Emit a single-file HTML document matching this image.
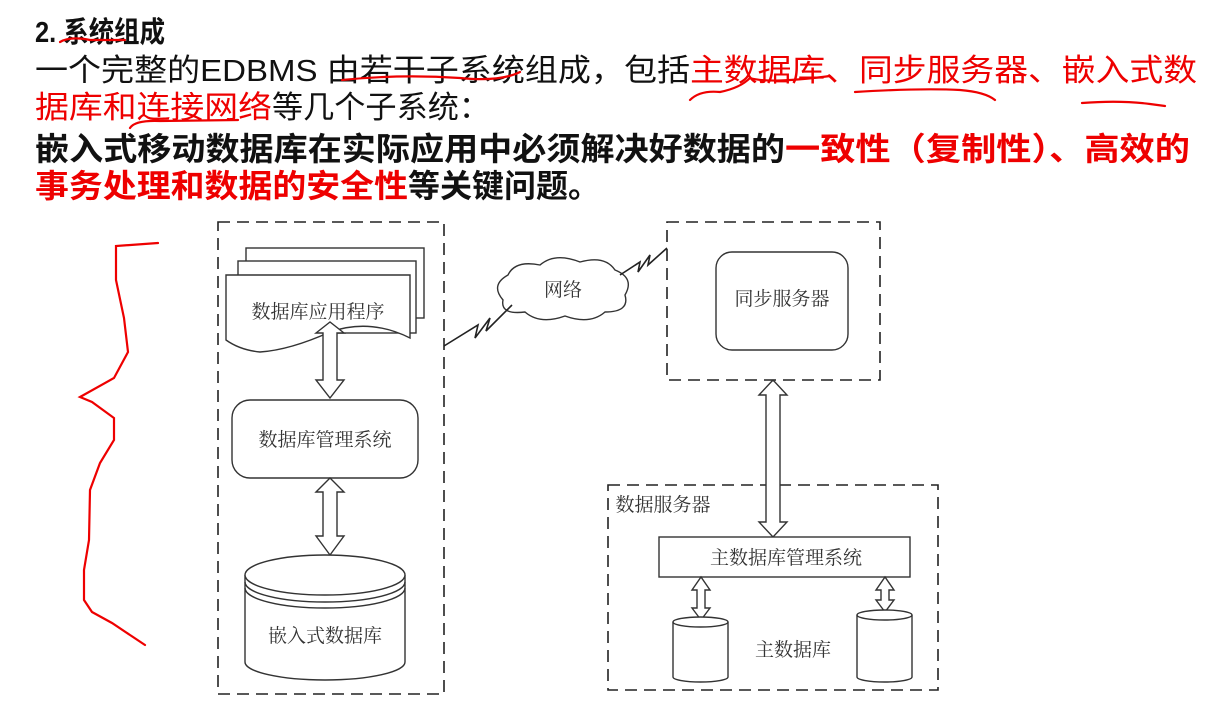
<!DOCTYPE html>
<html><head><meta charset="utf-8"><style>
html,body{margin:0;padding:0;background:#fff;}
svg{display:block;}
.t{font-family:"Liberation Sans","Noto Sans CJK SC",sans-serif;}
.d{font-family:"Liberation Serif","Noto Serif CJK SC",serif;fill:#333;}
</style></head><body>
<svg width="1225" height="723" viewBox="0 0 1225 723" xmlns="http://www.w3.org/2000/svg">
<rect width="1225" height="723" fill="#fff"/>
<g class="t">
<text x="35" y="42" font-size="29" font-weight="bold" fill="#111" textLength="130" lengthAdjust="spacingAndGlyphs">2. 系统组成</text>
<text y="81" font-size="31"><tspan x="35" fill="#111" textLength="655" lengthAdjust="spacingAndGlyphs">一个完整的EDBMS 由若干子系统组成，包括</tspan><tspan x="690" fill="#e00" textLength="507" lengthAdjust="spacingAndGlyphs">主数据库、同步服务器、嵌入式数</tspan></text>
<text y="118" font-size="31"><tspan x="35" fill="#e00" textLength="237" lengthAdjust="spacingAndGlyphs">据库和连接网络</tspan><tspan x="272" fill="#111" textLength="218" lengthAdjust="spacingAndGlyphs">等几个子系统：</tspan></text>
<text y="160" font-size="32" font-weight="bold"><tspan x="35" fill="#111" textLength="750" lengthAdjust="spacingAndGlyphs">嵌入式移动数据库在实际应用中必须解决好数据的</tspan><tspan x="785" fill="#e00" textLength="405" lengthAdjust="spacingAndGlyphs">一致性（复制性）、高效的</tspan></text>
<text y="197" font-size="32" font-weight="bold"><tspan x="35" fill="#e00" textLength="373" lengthAdjust="spacingAndGlyphs">事务处理和数据的安全性</tspan><tspan x="408" fill="#111" textLength="192" lengthAdjust="spacingAndGlyphs">等关键问题。</tspan></text>
</g>
<g fill="none" stroke="#e00" stroke-width="2.2" stroke-linecap="round">
<path d="M60 42 Q70 36 90 40 L125 40"/>
<path d="M342 80 Q400 74 460 78 Q500 82 520 72"/>
<path d="M690 100 Q700 90 720 92 Q740 88 750 78 Q770 84 830 76"/>
<path d="M855 92 Q920 88 960 90 Q985 92 995 100"/>
<path d="M1082 103 Q1120 100 1150 104 L1165 106"/>
<path d="M130 128 Q135 120 160 121 L238 120"/>
<path d="M158 243 L116 246 L116 280 L124 318 L128 352 L114 378 L80 397 L92 402 L114 418 L114 440 L100 463 L90 490 L89 540 L84 570 L84 600 L92 612 L112 623 L130 635 L145 645"/>
</g>
<g fill="none" stroke="#222" stroke-width="1.6" stroke-dasharray="12,7">
<rect x="218" y="222" width="226" height="472"/>
<rect x="667" y="222" width="213" height="158"/>
<rect x="608" y="485" width="330" height="205"/>
</g>
<g stroke="#333" stroke-width="1.4" fill="#fff">
<rect x="246" y="248" width="178" height="70"/>
<rect x="238" y="261" width="178" height="72"/>
<path d="M226 275 L410 275 L410 338 Q370 318 330 332 Q290 350 260 352 Q240 350 226 340 Z"/>
<path d="M316 333 L330 322 L344 333 L337 333 L337 380 L344 380 L330 398 L316 380 L323 380 L323 333 Z"/>
<rect x="232" y="400" width="186" height="78" rx="18"/>
<path d="M316 492 L330 478 L344 492 L337 492 L337 536 L344 536 L330 555 L316 536 L323 536 L323 492 Z"/>
<path d="M245 575 L245 662 A80 18 0 0 0 405 662 L405 575"/>
<ellipse cx="325" cy="575" rx="80" ry="20"/>
<path d="M245 582 A80 20 0 0 0 405 582" fill="none"/>
<path d="M245 588 A80 20 0 0 0 405 588" fill="none"/>
<path d="M503 300 Q490 285 508 275 Q515 260 540 265 Q555 252 580 262 Q605 255 615 270 Q635 278 625 295 Q630 312 605 312 Q590 325 565 316 Q540 325 525 312 Q500 315 503 300 Z"/>
<rect x="716" y="252" width="132" height="98" rx="16"/>
<path d="M759 395 L773 380 L787 395 L780 395 L780 522 L787 522 L773 537 L759 522 L766 522 L766 395 Z"/>
<rect x="659" y="537" width="251" height="40"/>
<path d="M692 590 L701 577 L710 590 L705 590 L705 608 L710 608 L701 620 L692 608 L697 608 L697 590 Z"/>
<path d="M876 590 L885 577 L894 590 L889 590 L889 600 L894 600 L885 612 L876 600 L881 600 L881 590 Z"/>
<path d="M673 622 L673 677 A27.5 5 0 0 0 728 677 L728 622"/>
<ellipse cx="700.5" cy="622" rx="27.5" ry="5"/>
<path d="M857 615 L857 677 A27.5 5 0 0 0 912 677 L912 615"/>
<ellipse cx="884.5" cy="615" rx="27.5" ry="5"/>
</g>
<g fill="none" stroke="#222" stroke-width="1.6">
<path d="M444 346 L478 325 L475 338 L490 318 L486 331 L512 305"/>
<path d="M620 275 L640 262 L638 272 L650 255 L648 265 L667 248"/>
</g>
<g class="d" font-size="19" text-anchor="middle">
<text x="318" y="318">数据库应用程序</text>
<text x="325" y="446">数据库管理系统</text>
<text x="325" y="642">嵌入式数据库</text>
<text x="563" y="296">网络</text>
<text x="782" y="305">同步服务器</text>
<text x="786" y="564">主数据库管理系统</text>
<text x="793" y="656">主数据库</text>
<text x="663" y="511">数据服务器</text>
</g>
</svg>
</body></html>
